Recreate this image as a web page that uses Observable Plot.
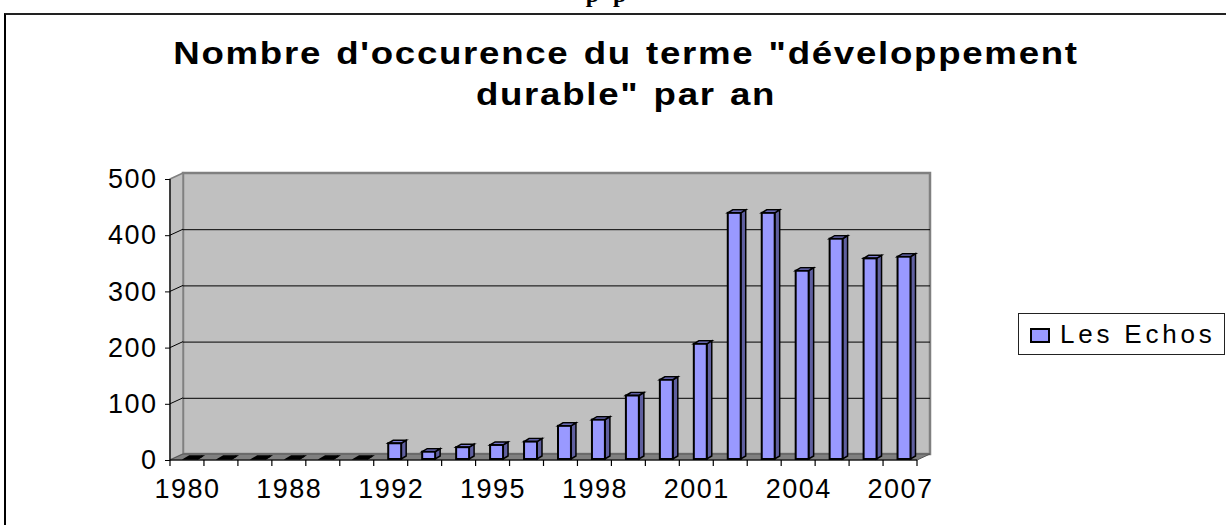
<!DOCTYPE html>
<html>
<head>
<meta charset="utf-8">
<script src="https://cdn.jsdelivr.net/npm/d3@7"></script>
<script src="https://cdn.jsdelivr.net/npm/@observablehq/plot@0.6"></script>
<style>
  html, body { margin: 0; padding: 0; background: #fff; }
  #wrap { position: relative; width: 1226px; height: 525px; overflow: hidden; font-family: "Liberation Sans", Arial, sans-serif; }
  #frame { position: absolute; left: 4px; top: 13px; width: 1400px; height: 700px; border-left: 2px solid #000; border-top: 2px solid #222; box-sizing: border-box; }
  #cut { position: absolute; top: -18px; left: 0; width: 1226px; text-align: center; font: bold 24px "Liberation Serif", serif; line-height: 24px; letter-spacing: 14px; color: #000; }
  #chart { position: absolute; left: 0; top: 0; }
  #title { position: absolute; left: 0; top: 33px; width: 1252px; text-align: center; font-weight: bold; font-size: 32px; line-height: 41px; letter-spacing: 1.5px; word-spacing: 2px; color: #000; transform: scaleX(1.145); transform-origin: 626px 0; }
  #legend { position: absolute; left: 1018px; top: 313px; width: 207px; height: 42px; box-sizing: border-box; border: 1.5px solid #222; background: #fff; }
  #legend .sw { position: absolute; left: 11px; top: 14px; width: 20px; height: 15px; box-sizing: border-box; border: 2px solid #000; background: #9999ff; }
  #legend .lb { position: absolute; left: 41px; top: 5px; font-size: 26px; line-height: 30px; letter-spacing: 3.8px; color: #000; white-space: nowrap; }
</style>
</head>
<body>
<div id="wrap">
  <div id="frame"></div>
  <div id="cut">pp</div>
  <div id="chart"></div>
  <div id="title">Nombre d'occurence du terme "développement<br>durable" par an</div>
  <div id="legend"><div class="sw"></div><div class="lb"></div></div>
</div>
<script>
// ---- data ----
const years = ["1980","1984","1986","1988","1990","1991","1992","1993","1994","1995","1996","1997","1998","1999","2000","2001","2002","2003","2004","2005","2006","2007"];
const counts = [0,0,0,0,0,0,28,13,21,25,31,59,70,113,141,205,438,438,335,392,357,360];
const yTicks = [0,100,200,300,400,500];
const gridValues = [100,200,300,400];
const xLabels = ["1980","1988","1992","1995","1998","2001","2004","2007"];
const seriesName = "Les Echos";

const data = years.map((year, i) => ({year, count: counts[i]}));

// ---- style constants ----
const WX = 13, WY = -6;          // wall depth offset
const BAR_INSET = 10.5;          // band inset for bar front
const BDX = 4, BDY = -1;         // bar placement inside the depth
const BX = 5, BY = -3;           // bar depth
const barFill = "#9999ff", barSide = "#5f5f9f", barTop = "#7c7cd6";
const wallFill = "#c0c0c0", wallEdge = "#808080", floorFill = "#808080";

function bw(x) {
  return typeof x.bandwidth === "function" ? x.bandwidth() : (x(years[1]) - x(years[0]));
}

function poly(g, pts, fill, stroke, sw) {
  g.append("polygon").attr("points", pts.map(p => p.join(",")).join(" "))
    .attr("fill", fill).attr("stroke", stroke).attr("stroke-width", sw).attr("stroke-linejoin", "miter");
}

// walls
function walls(index, scales) {
  const {x, y} = scales;
  const b = bw(x);
  const xl = x(years[0]), xr = x(years[years.length - 1]) + b;
  const y0 = y(0), yt = y(yTicks[yTicks.length - 1]);
  const g = d3.create("svg:g");
  poly(g, [[xl + WX, yt + WY], [xr + WX, yt + WY], [xr + WX, y0 + WY], [xl + WX, y0 + WY]], wallFill, wallEdge, 2.5);
  poly(g, [[xl, yt], [xl + WX, yt + WY], [xl + WX, y0 + WY], [xl, y0]], wallFill, wallEdge, 1.5);
  for (const v of gridValues) {
    g.append("line").attr("x1", xl).attr("y1", y(v)).attr("x2", xl + WX).attr("y2", y(v) + WY)
      .attr("stroke", "#000").attr("stroke-width", 1);
  }
  return g.node();
}

function floorMark(index, scales) {
  const {x, y} = scales;
  const b = bw(x);
  const xl = x(years[0]), xr = x(years[years.length - 1]) + b;
  const y0 = y(0);
  const g = d3.create("svg:g");
  poly(g, [[xl, y0], [xr, y0], [xr + WX, y0 + WY], [xl + WX, y0 + WY]], floorFill, "#555", 1);
  return g.node();
}

// 3D faces of the bars
function barFaces(index, scales) {
  const {x, y} = scales;
  const b = bw(x);
  const g = d3.create("svg:g");
  for (const d of data) {
    const l = x(d.year) + BAR_INSET + BDX;
    const r = x(d.year) + b - BAR_INSET + BDX;
    const t = y(d.count) + BDY;
    const bo = y(0) + BDY;
    poly(g, [[r, t], [r + BX, t + BY], [r + BX, bo + BY], [r, bo]], barSide, "#000", 1.5);
    poly(g, [[l, t], [l + BX, t + BY], [r + BX, t + BY], [r, t]], d.count > 0 ? barTop : "#000", "#000", 1.5);
  }
  return g.node();
}

// axis lines & category boundary ticks
function axisLines(index, scales) {
  const {x, y} = scales;
  const b = bw(x);
  const xl = x(years[0]), xr = x(years[years.length - 1]) + b;
  const y0 = y(0), yt = y(yTicks[yTicks.length - 1]);
  const g = d3.create("svg:g").attr("stroke", "#000").attr("stroke-width", 1.2);
  g.append("line").attr("x1", xl).attr("x2", xl).attr("y1", yt).attr("y2", y0);
  g.append("line").attr("x1", xl).attr("x2", xr).attr("y1", y0).attr("y2", y0);
  for (let i = 0; i <= years.length; i++) {
    const xp = xl + i * b;
    g.append("line").attr("x1", xp).attr("x2", xp).attr("y1", y0).attr("y2", y0 + 6);
  }
  return g.node();
}

const chart = Plot.plot({
  width: 1226,
  height: 525,
  marginLeft: 170,
  marginRight: 309,
  marginTop: 179,
  marginBottom: 65,
  style: {background: "transparent", fontFamily: '"Liberation Sans", Arial, sans-serif', fontSize: "27px", letterSpacing: "1.5px", color: "#000", overflow: "visible"},
  x: {domain: years, padding: 0, round: false},
  y: {domain: [0, 500]},
  marks: [
    walls,
    Plot.ruleY(gridValues, {dx: WX, dy: WY, stroke: "#000", strokeWidth: 1}),
    floorMark,
    barFaces,
    Plot.barY(data, {x: "year", y: "count", fill: barFill, stroke: "#000", strokeWidth: 2, insetLeft: BAR_INSET, insetRight: BAR_INSET, dx: BDX, dy: BDY}),
    axisLines,
    Plot.axisY(yTicks, {tickSize: 5, tickPadding: 8, fontSize: 27, stroke: "#000", label: null}),
    Plot.axisX(xLabels, {tickSize: 0, tickPadding: 18, fontSize: 27, label: null})
  ]
});
document.getElementById("chart").appendChild(chart);
document.querySelector("#legend .lb").textContent = seriesName;
</script>
</body>
</html>
